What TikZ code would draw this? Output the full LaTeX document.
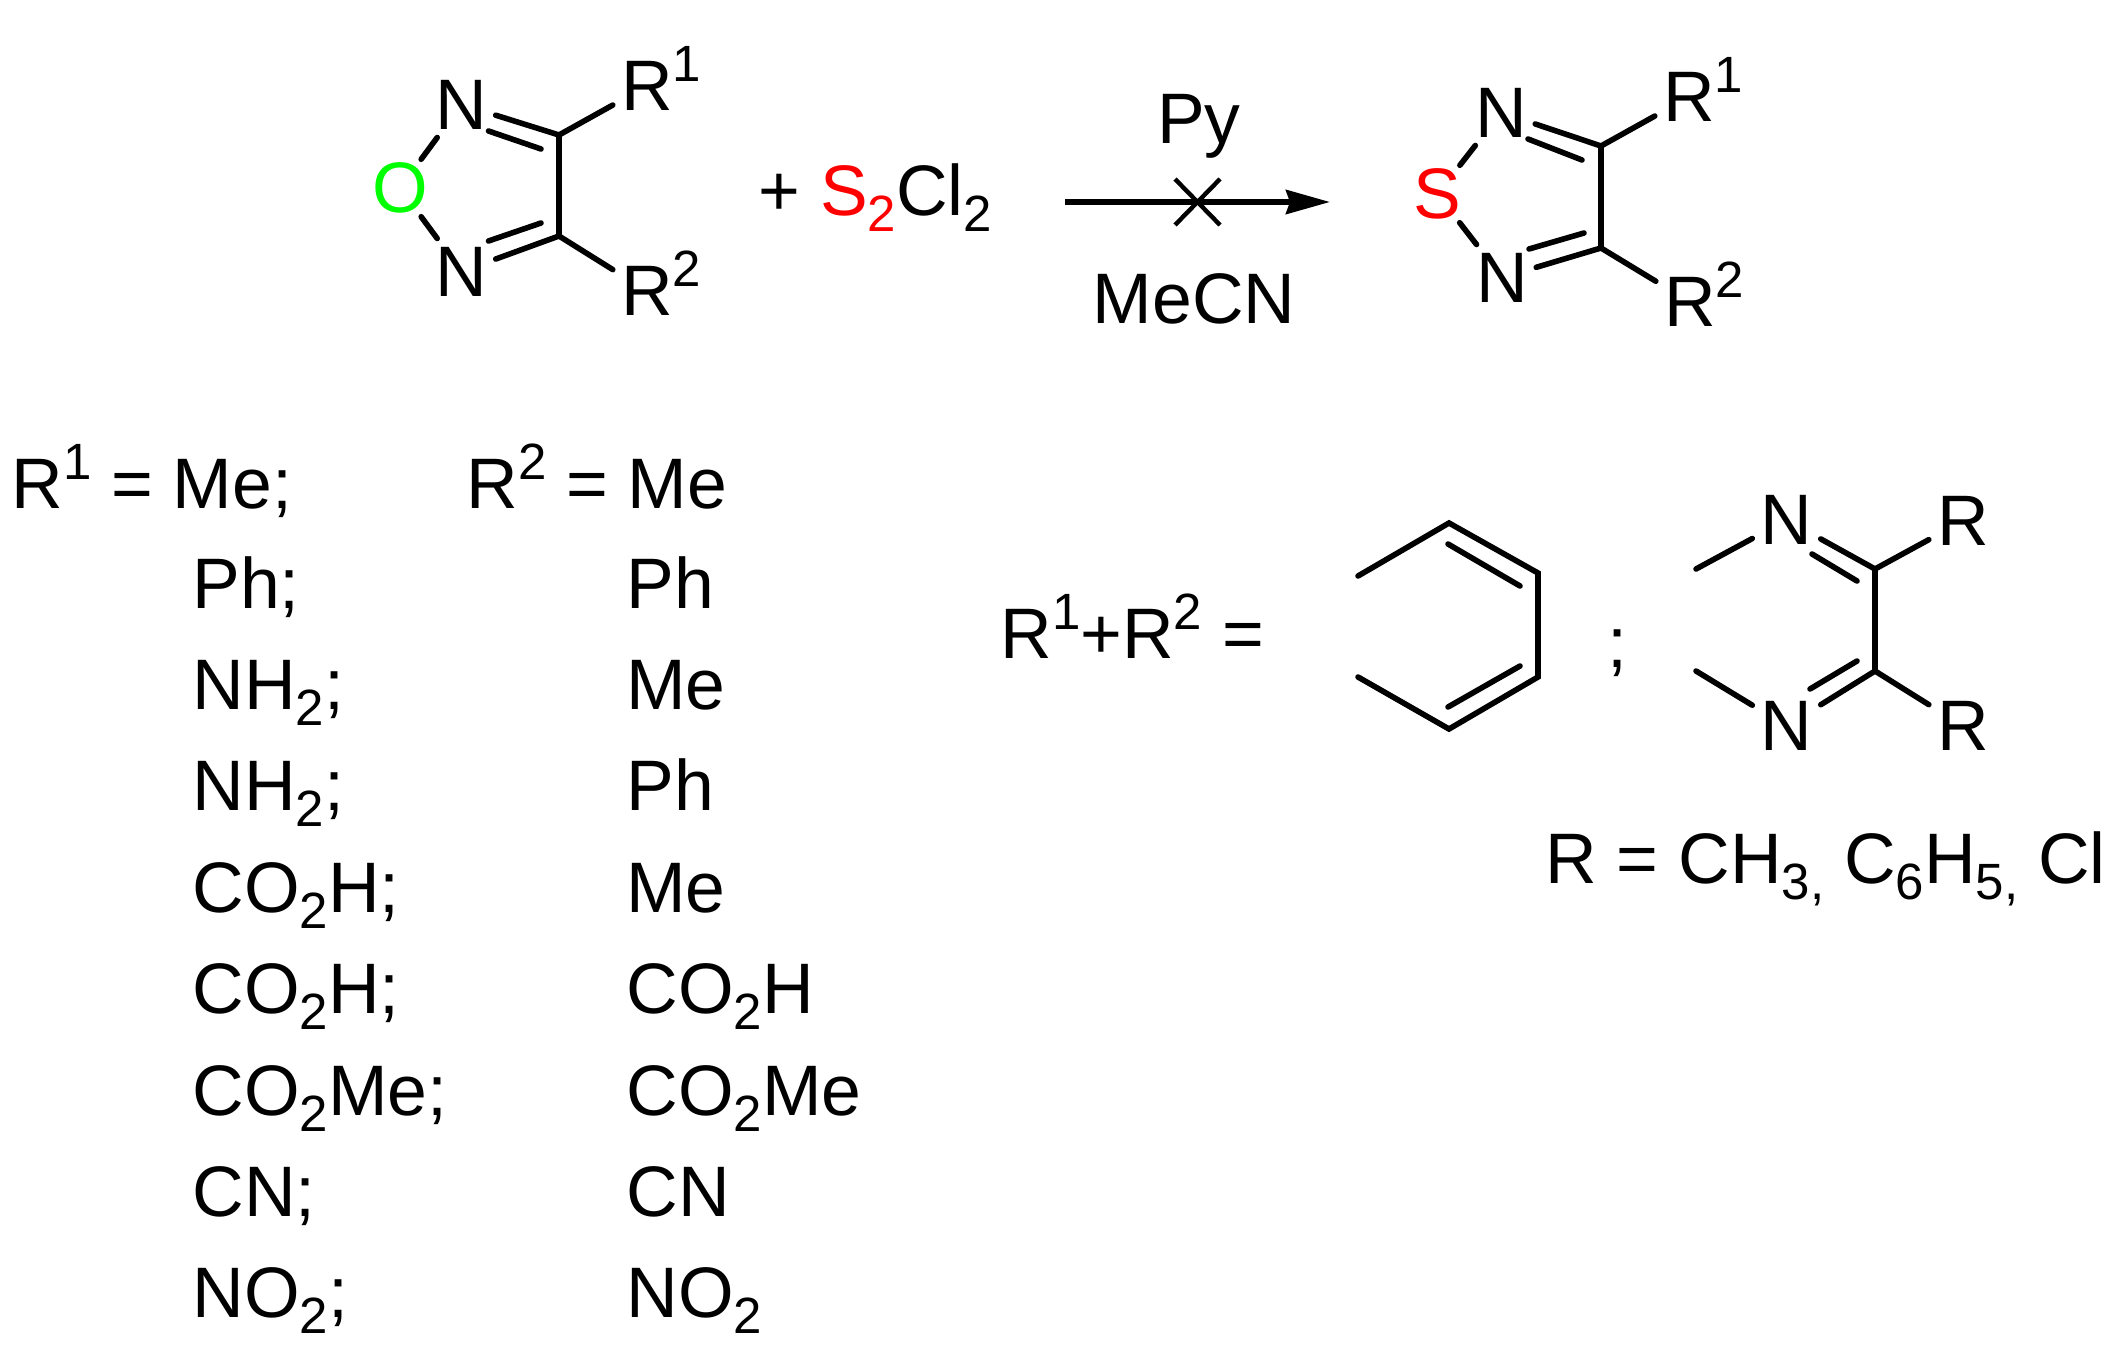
\documentclass[tikz,border=0pt]{standalone}
\usepackage{fontspec}
\setmainfont{Liberation Sans}
\usetikzlibrary{arrows.meta,positioning}
\newcommand{\sbs}[1]{\raisebox{-8pt}{\fontsize{25.5}{28}\selectfont #1}}
\newcommand{\sps}[1]{\raisebox{14.5pt}{\fontsize{25.5}{28}\selectfont #1}}
\newcommand{\rsup}[1]{R\rlap{\smash{\sps{#1}}}}
\definecolor{oxygreen}{RGB}{0,255,0}
\definecolor{sulfred}{RGB}{255,0,0}
\tikzset{
  txt/.style={inner sep=0pt, anchor=base west, font=\fontsize{35.75}{40}\selectfont},
  atom/.style={inner sep=4pt, font=\fontsize{35.75}{40}\selectfont},
  hetero/.style={atom, inner sep=1.5pt},
  rowitem/.style={txt, text height=28pt, text depth=10pt},
  row/.style={rowitem, below=50.7pt of #1.west, anchor=west},
  bond/.style={line width=2.8pt, line cap=round}
}
\begin{document}
\begin{tikzpicture}[x=0.5pt,y=-0.5pt]
\useasboundingbox (0,0) rectangle (2128,1348);
% nodes: furazan
\node[hetero, text=oxygreen] (o) at (400,188) {O};%
\node[atom] (n1) at (461.5,104.5) {N};%
\node[atom] (n2) at (461.5,271.5) {N};%
\node[atom] (r1) at (647,86) {\rsup{1}};%
\node[atom] (r2) at (647,291) {\rsup{2}};%
\coordinate (c1) at (559,135);
\coordinate (c2) at (559,236);
\coordinate (d1a) at (488.5,131);
\coordinate (d1b) at (541,149);
\coordinate (d2a) at (488.5,241);
\coordinate (d2b) at (541,223);
\node[txt] (reag) at (758,216) {+ \textcolor{sulfred}{S\sbs{2}}Cl\sbs{2}};%
% nodes: arrow
\coordinate (arra) at (1065,202);
\coordinate (arrb) at (1330,202);
\coordinate (xa) at (1175,179);
\coordinate (xb) at (1220,225);
\coordinate (xc) at (1220,179);
\coordinate (xd) at (1175,225);
\node[txt, anchor=base] (py) at (1199,144) {Py};%
\node[txt, anchor=base] (mecn) at (1194,323) {MeCN};%
% nodes: thiadiazole
\node[hetero, text=sulfred] (s) at (1437.5,194) {S};%
\node[atom] (n3) at (1501,112.5) {N};%
\node[atom] (n4) at (1502,277.5) {N};%
\node[atom] (r3) at (1689,97) {\rsup{1}};%
\node[atom] (r4) at (1690,302) {\rsup{2}};%
\coordinate (c3) at (1601,146);
\coordinate (c4) at (1601,248);
\coordinate (d3a) at (1528,139);
\coordinate (d3b) at (1582,160);
\coordinate (d4a) at (1529,249);
\coordinate (d4b) at (1584,233);
% nodes: substituent list
\node[txt] (head1) at (11,508) {R\sps{1} = Me;};%
\node[txt] (head2) at (466,508) {R\sps{2} = Me};%
\node[rowitem] (m2) at (192,608) {Ph;};%
\node[row=m2] (m3) {NH\sbs{2};};%
\node[row=m3] (m4) {NH\sbs{2};};%
\node[row=m4] (m5) {CO\sbs{2}H;};%
\node[row=m5] (m6) {CO\sbs{2}H;};%
\node[row=m6] (m7) {CO\sbs{2}Me;};%
\node[row=m7] (m8) {CN;};%
\node[row=m8] (m9) {NO\sbs{2};};%
\node[rowitem] (p2) at (626,608) {Ph};%
\node[row=p2] (p3) {Me};%
\node[row=p3] (p4) {Ph};%
\node[row=p4] (p5) {Me};%
\node[row=p5] (p6) {CO\sbs{2}H};%
\node[row=p6] (p7) {CO\sbs{2}Me};%
\node[row=p7] (p8) {CN};%
\node[row=p8] (p9) {NO\sbs{2}};%
% nodes: fused rings
\node[txt] (sum) at (1000,658) {R\sps{1}+R\sps{2} =};%
\coordinate (b1) at (1358,576);
\coordinate (b2) at (1449,523);
\coordinate (b3) at (1538,573);
\coordinate (b4) at (1538,677);
\coordinate (b5) at (1449,729);
\coordinate (b6) at (1358,677);
\coordinate (i1) at (1448,544);
\coordinate (i2) at (1520,586);
\coordinate (i3) at (1520,666);
\coordinate (i4) at (1448,707);
\node[txt] (semi) at (1607,667) {;};%
\node[atom] (n5) at (1786.5,520) {N};%
\node[atom] (n6) at (1786.5,726) {N};%
\node[atom] (r5) at (1963,521) {R};%
\node[atom] (r6) at (1963,726) {R};%
\coordinate (c5) at (1875,569);
\coordinate (c6) at (1875,671);
\coordinate (f1) at (1696,569);
\coordinate (f2) at (1696,671);
\coordinate (d5a) at (1812,554);
\coordinate (d5b) at (1857,581);
\coordinate (d6a) at (1810,689);
\coordinate (d6b) at (1857,661);
\node[txt] (rdef) at (1545,883) {R = CH\sbs{3,} C\sbs{6}H\sbs{5,} Cl};%
% edges
\draw[bond] (o) -- (n1);
\draw[bond] (o) -- (n2);
\draw[bond] (n1) -- (c1);
\draw[bond] (n2) -- (c2);
\draw[bond] (d1a) -- (d1b);
\draw[bond] (d2a) -- (d2b);
\draw[bond] (c1) -- (c2);
\draw[bond] (c1) -- (r1);
\draw[bond] (c2) -- (r2);

\draw[bond, line cap=butt, -{Stealth[length=22pt,width=12pt,inset=2pt]}] (arra) -- (arrb);
\draw[line width=2.2pt] (xa) -- (xb);
\draw[line width=2.2pt] (xc) -- (xd);

\draw[bond] (s) -- (n3);
\draw[bond] (s) -- (n4);
\draw[bond] (n3) -- (c3);
\draw[bond] (n4) -- (c4);
\draw[bond] (d3a) -- (d3b);
\draw[bond] (d4a) -- (d4b);
\draw[bond] (c3) -- (c4);
\draw[bond] (c3) -- (r3);
\draw[bond] (c4) -- (r4);

\draw[bond] (b1) -- (b2) -- (b3) -- (b4) -- (b5) -- (b6);
\draw[bond] (i1) -- (i2);
\draw[bond] (i3) -- (i4);

\draw[bond] (f1) -- (n5);
\draw[bond] (f2) -- (n6);
\draw[bond] (n5) -- (c5);
\draw[bond] (n6) -- (c6);
\draw[bond] (d5a) -- (d5b);
\draw[bond] (d6a) -- (d6b);
\draw[bond] (c5) -- (c6);
\draw[bond] (c5) -- (r5);
\draw[bond] (c6) -- (r6);
\end{tikzpicture}
\end{document}
